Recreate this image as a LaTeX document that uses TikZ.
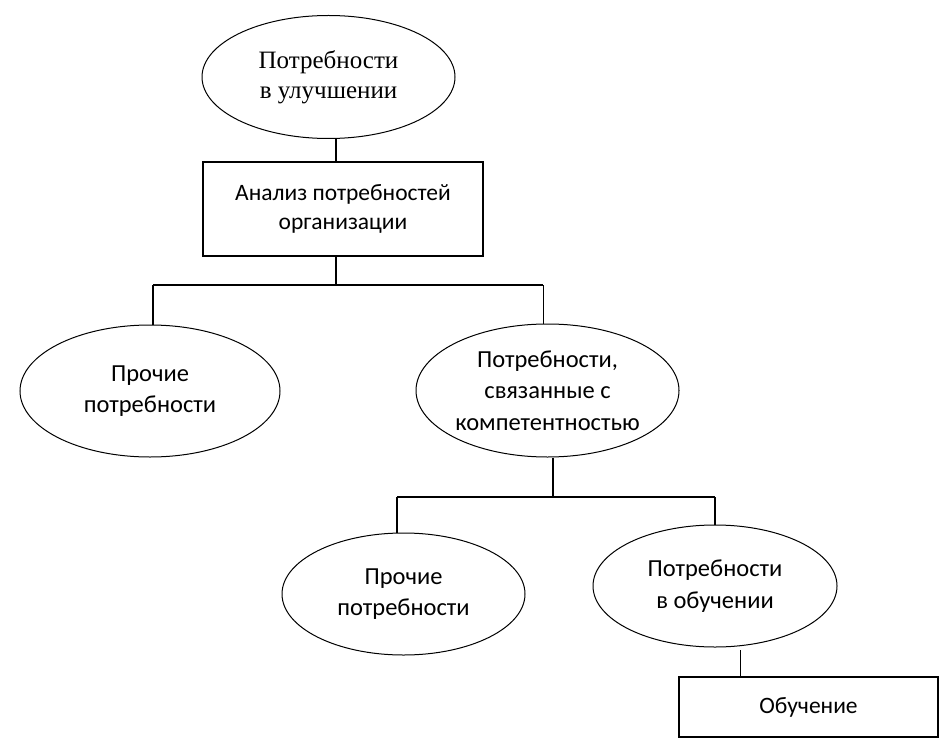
\documentclass[tikz,border=0pt]{standalone}
\usepackage{fontspec}
\setmainfont{Liberation Serif}
\newfontfamily\calfont{Carlito}
\usetikzlibrary{shapes.geometric}
\begin{document}
\begin{tikzpicture}[x=1pt,y=-1pt,
  ell/.style={draw,ellipse,line width=1pt,inner sep=0pt,align=center,
    font=\calfont\fontsize{24.5}{31.5}\selectfont},
  bx/.style={draw,rectangle,line width=1.4pt,inner sep=0pt,align=center,
    font=\calfont\fontsize{23.5}{28.5}\selectfont},
  thk/.style={line width=1.8pt},
  thn/.style={line width=1pt}]
\useasboundingbox (0,0) rectangle (949,743);
% nodes
\node[ell,minimum width=253pt,minimum height=123pt,
  font=\fontsize{25}{30}\selectfont] (e1) at (328.5,77) {Потребности\\в улучшении};
\node[bx,minimum width=280pt,minimum height=94pt] (b1) at (343,209) {Анализ потребностей\\организации};
\node[ell,minimum width=260pt,minimum height=132pt] (e2) at (150,391) {Прочие\\потребности};
\node[ell,minimum width=263pt,minimum height=133pt] (e3) at (547.5,390.5) {Потребности,\\связанные с\\компетентностью};
\node[ell,minimum width=243pt,minimum height=122pt] (e4) at (403.5,594) {Прочие\\потребности};
\node[ell,minimum width=244pt,minimum height=122pt] (e5) at (715,586) {Потребности\\в обучении};
\node[bx,minimum width=259pt,minimum height=60pt,line width=1.2pt] (b2) at (808.5,707) {Обучение};
% junction coordinates
\coordinate (j1) at (336,285);
\coordinate (j1l) at (153,285);
\coordinate (j1r) at (543,285);
\coordinate (j2) at (553,497);
\coordinate (j2l) at (397,497);
\coordinate (j2r) at (715,497);
\coordinate (j3) at (740,650);
% connectors
\draw[thk] (e1.south -| j1) -- (b1.north -| j1);
\draw[thk] (b1.south -| j1) -- (j1);
\draw[thk] (j1l) -- (j1r);
\draw[thk] (j1l) -- (e2.north -| j1l);
\draw[thn] (j1r) -- (e3.north -| j1r);
\draw[thk] (e3.south -| j2) -- (j2);
\draw[thk] (j2l) -- (j2r);
\draw[thk] (j2l) -- (e4.north -| j2l);
\draw[thk] (j2r) -- (e5.north -| j2r);
\draw[thn] (j3) -- (b2.north -| j3);
\end{tikzpicture}
\end{document}
